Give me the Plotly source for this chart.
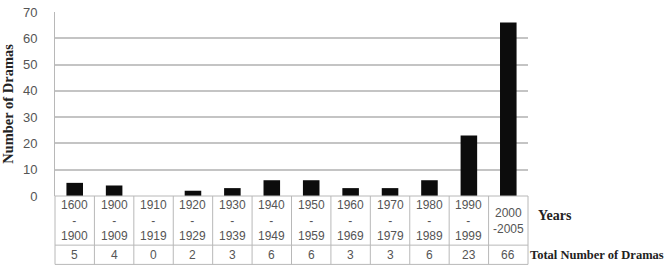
import plotly.graph_objects as go

periods = ["1600<br>-<br>1900", "1900<br>-<br>1909", "1910<br>-<br>1919", "1920<br>-<br>1929",
           "1930<br>-<br>1939", "1940<br>-<br>1949", "1950<br>-<br>1959", "1960<br>-<br>1969",
           "1970<br>-<br>1979", "1980<br>-<br>1989", "1990<br>-<br>1999", "2000<br>-2005"]
totals = [5, 4, 0, 2, 3, 6, 6, 3, 3, 6, 23, 66]
y_ticks = [0, 10, 20, 30, 40, 50, 60, 70]

n = len(totals)
xs = list(range(n))

W, H = 669, 272
mt, mb, ml, mr = 5, 76, 49, 141
ph = H - mt - mb

def py(pix):
    # pixel row -> paper y
    return (H - mb - pix) / ph

fig = go.Figure()
fig.add_trace(go.Bar(
    x=xs, y=totals, width=0.42,
    marker=dict(color="#0c0c0c", line=dict(width=0)),
    hoverinfo="skip",
))

grid_col = "#c4c4c4"
txt_col = "#555555"
line_col = "#b8b8b8"

shapes = []
row1 = py(247)
row2 = py(267)
for yy in [0, row1, row2]:
    shapes.append(dict(type="line", xref="x domain", yref="paper", x0=0, x1=1, y0=yy, y1=yy,
                       line=dict(color=line_col, width=1)))
for i in range(n + 1):
    shapes.append(dict(type="line", xref="x domain", yref="paper", x0=i / n, x1=i / n, y0=0, y1=row2,
                       line=dict(color=line_col, width=1)))

annotations = []
for i, (p, t) in enumerate(zip(periods, totals)):
    annotations.append(dict(x=i, y=py(221.5), xref="x", yref="paper", text=p, showarrow=False,
                            yanchor="middle", font=dict(family="Liberation Sans", size=12, color=txt_col)))
    annotations.append(dict(x=i, y=py(257), xref="x", yref="paper", text=str(t), showarrow=False,
                            yanchor="middle", font=dict(family="Liberation Sans", size=12, color=txt_col)))

annotations.append(dict(x=1, y=py(216), xref="paper", yref="paper", text="<b>Years</b>", showarrow=False,
                        xanchor="left", xshift=8, yanchor="middle",
                        font=dict(family="Liberation Serif", size=14, color="#222")))
annotations.append(dict(x=1, y=py(257), xref="paper", yref="paper", text="<b>Total Number of Dramas</b>",
                        showarrow=False, xanchor="left", xshift=0, yanchor="middle",
                        font=dict(family="Liberation Serif", size=12.5, color="#222")))

fig.update_layout(
    width=W, height=H,
    margin=dict(l=ml, r=mr, t=mt, b=mb),
    paper_bgcolor="white", plot_bgcolor="white",
    showlegend=False,
    shapes=shapes,
    annotations=annotations,
    xaxis=dict(range=[-0.5, n - 0.5], showticklabels=False, showgrid=False, zeroline=False,
               showline=False, ticks=""),
    yaxis=dict(range=[0, 70], tickvals=y_ticks, showgrid=True, gridcolor=grid_col, gridwidth=1.5,
               zeroline=False, showline=True, linecolor=line_col, linewidth=1,
               ticks="", ticklabelstandoff=14, ticklabeloverflow="allow",
               tickfont=dict(family="Liberation Sans", size=13, color=txt_col),
               title=dict(text="<b>Number of Dramas</b>", standoff=8,
                          font=dict(family="Liberation Serif", size=14.5, color="#222"))),
)

fig.write_html("out.html")
